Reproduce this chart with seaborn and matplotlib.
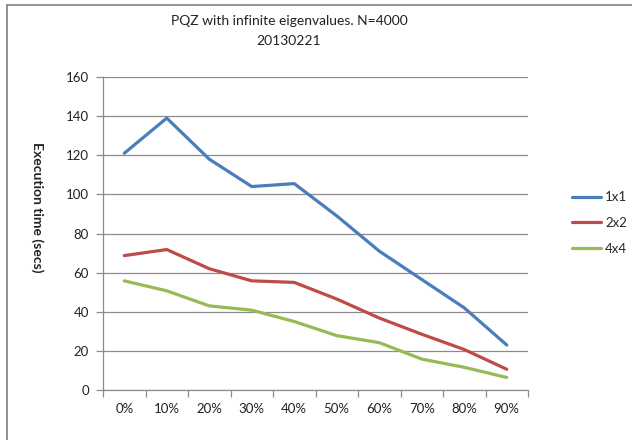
import matplotlib
matplotlib.use("Agg")
import matplotlib.pyplot as plt
from matplotlib.lines import Line2D
import seaborn as sns
import pandas as pd

# Fraction of infinite eigenvalues and measured run times (seconds)
categories = ["0%", "10%", "20%", "30%", "40%", "50%", "60%", "70%", "80%", "90%"]
t_1x1 = [121, 139, 118, 104, 105.5, 89, 71, 56.5, 42, 23]
t_2x2 = [68.7, 71.8, 62, 55.8, 55, 46.5, 36.8, 28.5, 20.7, 10.6]
t_4x4 = [55.8, 50.7, 43, 40.8, 35, 27.8, 24.2, 15.8, 11.6, 6.4]
series = ["1x1", "2x2", "4x4"]
colors = ["#4A7EBB", "#BE4B48", "#98B954"]

df = pd.DataFrame({
    "fraction": categories * 3,
    "time": t_1x1 + t_2x2 + t_4x4,
    "block": [s for s in series for _ in categories],
})

sns.set_theme(style="white")
plt.rcParams["font.family"] = ["Lato", "DejaVu Sans"]

fig = plt.figure(figsize=(6.32, 4.40), dpi=100)
ax = fig.add_axes([103 / 632, 1 - 390 / 440, (528 - 103) / 632, (390 - 77) / 440])

sns.lineplot(data=df, x="fraction", y="time", hue="block", palette=colors,
             linewidth=2.3, ax=ax, legend=False, sort=False)

grid_c = "#8C8C8C"
ax.set_ylim(0, 160)
ax.set_yticks(range(0, 161, 20))
ax.set_xlim(-0.5, len(categories) - 0.5)
ax.set_xticks(range(len(categories)))
ax.set_xticklabels(categories)
ax.set_xticks([i - 0.5 for i in range(len(categories) + 1)], minor=True)
ax.yaxis.grid(True, color=grid_c, linewidth=0.9)
ax.xaxis.grid(False)
ax.set_axisbelow(True)
for side in ["top", "right"]:
    ax.spines[side].set_visible(False)
for side in ["left", "bottom"]:
    ax.spines[side].set_color(grid_c)
    ax.spines[side].set_linewidth(0.9)
ax.tick_params(axis="y", which="major", left=True, length=5, width=0.9, color=grid_c,
               labelsize=9.5, labelcolor="#222222", pad=5)
ax.tick_params(axis="x", which="major", bottom=False, length=0, labelsize=9.5,
               labelcolor="#222222", pad=9)
ax.tick_params(axis="x", which="minor", bottom=True, length=5, width=0.9, color=grid_c)
ax.set_xlabel("")
ax.set_ylabel("")

fig.text(37 / 632, 1 - 207 / 440, "Execution time (secs)", rotation=-90,
         ha="center", va="center", fontsize=10, fontweight="bold", color="#222222")
fig.text(289 / 632, 1 - 21 / 440, "PQZ with infinite eigenvalues. N=4000",
         ha="center", va="center", fontsize=10, color="#222222")
fig.text(289 / 632, 1 - 41 / 440, "20130221",
         ha="center", va="center", fontsize=10, color="#222222")

handles = [Line2D([], [], color=c, linewidth=2.3) for c in colors]
fig.legend(handles, series, loc="center left",
           bbox_to_anchor=(572 / 632, 1 - 223 / 440), frameon=False,
           fontsize=9.5, handlelength=2.2, handletextpad=0.3,
           labelspacing=1.05, borderaxespad=0, borderpad=0)

# chart frame
fig.add_artist(Line2D([7 / 632, 7 / 632], [0, 1 - 5 / 440], transform=fig.transFigure,
                      color="#808080", linewidth=1.2))
fig.add_artist(Line2D([7 / 632, 1], [1 - 5 / 440, 1 - 5 / 440], transform=fig.transFigure,
                      color="#808080", linewidth=1.2))

fig.savefig("out.png", dpi=100, facecolor="white")
